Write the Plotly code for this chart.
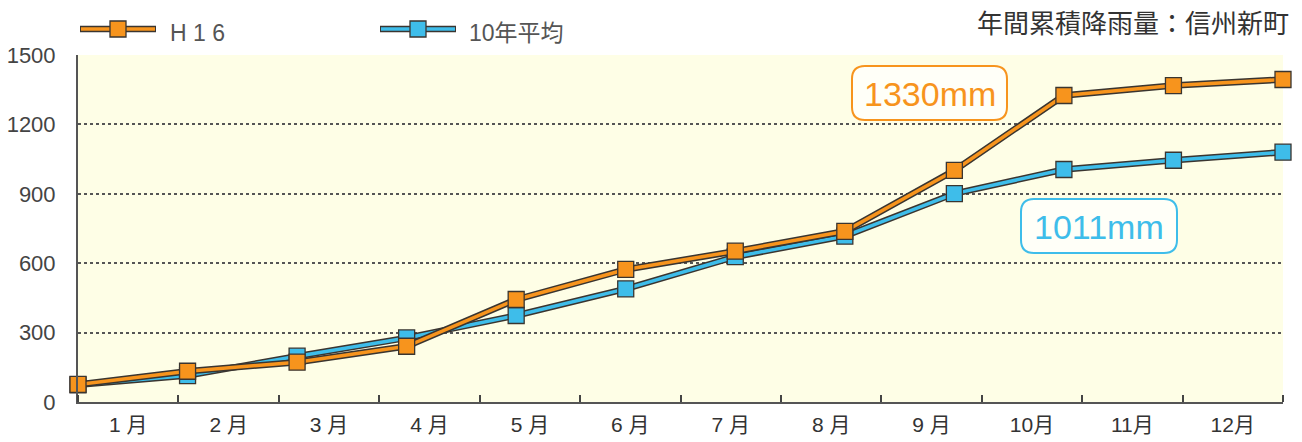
import plotly.graph_objects as go

# ---- data ----
months = ["1 月", "2 月", "3 月", "4 月", "5 月", "6 月", "7 月", "8 月", "9 月", "10月", "11月", "12月"]
point_index = list(range(12))
h16 = [76, 133, 172, 241, 443, 573, 652, 738, 1001, 1325, 1368, 1394]
avg10 = [74, 114, 198, 277, 374, 489, 628, 717, 901, 1005, 1045, 1080]
yticks = [0, 300, 600, 900, 1200, 1500]
series_names = ["H 1 6", "10年平均"]
title_text = "年間累積降雨量：信州新町"
total_labels = ["1330mm", "1011mm"]

ORANGE = "#F7941D"
BLUE = "#3EBDEA"
EDGE = "#3a3530"

W, H = 1302, 442
ML, MR, MT, MB = 78, 19, 55, 40
PW = W - ML - MR
PH = H - MT - MB


def fx(px):
    return (px - ML) / PW


def fy(py):
    return (H - MB - py) / PH


fig = go.Figure()

for ys, col in ((avg10, BLUE), (h16, ORANGE)):
    fig.add_trace(go.Scatter(x=point_index, y=ys, mode="lines",
                             line=dict(color=EDGE, width=6.5),
                             hoverinfo="skip", showlegend=False, cliponaxis=False))
    fig.add_trace(go.Scatter(x=point_index, y=ys, mode="lines+markers",
                             line=dict(color=col, width=3.5),
                             marker=dict(symbol="square", size=16, color=col,
                                         line=dict(color=EDGE, width=1.3)),
                             showlegend=False, cliponaxis=False))

n_months = len(months)
span = point_index[-1] - point_index[0]
month_w = span / n_months
month_centers = [(i + 0.5) * month_w for i in range(n_months)]
month_bounds = [i * month_w for i in range(n_months + 1)]

shapes = []
annotations = []


def rrect_path(x0, y0, x1, y1, r):
    pts = [("M", [(x0 + r, y0)]), ("L", [(x1 - r, y0)]), ("Q", [(x1, y0), (x1, y0 + r)]),
           ("L", [(x1, y1 - r)]), ("Q", [(x1, y1), (x1 - r, y1)]), ("L", [(x0 + r, y1)]),
           ("Q", [(x0, y1), (x0, y1 - r)]), ("L", [(x0, y0 + r)]), ("Q", [(x0, y0), (x0 + r, y0)])]
    s = ""
    for cmd, ps in pts:
        s += cmd + " " + " ".join(f"{fx(a):.5f},{fy(b):.5f}" for a, b in ps) + " "
    return s + "Z"


# value boxes
boxes = [((852, 66, 1007, 120), ORANGE, total_labels[0], (930, 94)),
         ((1021, 199, 1177, 253), BLUE, total_labels[1], (1099, 227))]
for (x0, y0, x1, y1), col, txt, (tx, ty) in boxes:
    shapes.append(dict(type="path", xref="paper", yref="paper", path=rrect_path(x0, y0, x1, y1, 13),
                       line=dict(color=col, width=2), fillcolor="#FFFFF8", layer="above"))
    annotations.append(dict(xref="paper", yref="paper", x=fx(tx), y=fy(ty), text=txt, showarrow=False,
                            xanchor="center", yanchor="middle",
                            font=dict(family="Liberation Sans, Arial", size=34, color=col)))

# custom legend
legend_items = [(80, 156, 118, ORANGE, series_names[0], 168), (380, 456, 418, BLUE, series_names[1], 467)]
for lx0, lx1, mx, col, name, tx in legend_items:
    ly = 29
    shapes.append(dict(type="line", xref="paper", yref="paper", x0=fx(lx0), x1=fx(lx1), y0=fy(ly), y1=fy(ly),
                       line=dict(color=EDGE, width=6.5)))
    shapes.append(dict(type="line", xref="paper", yref="paper", x0=fx(lx0 + 1), x1=fx(lx1 - 1), y0=fy(ly), y1=fy(ly),
                       line=dict(color=col, width=3.5)))
    shapes.append(dict(type="rect", xref="paper", yref="paper", x0=fx(mx - 8), x1=fx(mx + 8),
                       y0=fy(ly + 8), y1=fy(ly - 8), fillcolor=col, line=dict(color=EDGE, width=1.3)))
    annotations.append(dict(xref="paper", yref="paper", x=fx(tx), y=fy(33), text=name, showarrow=False,
                            xanchor="left", yanchor="middle",
                            font=dict(family="Liberation Sans, Noto Sans CJK JP", size=23, color="#555")))

annotations.append(dict(xref="paper", yref="paper", x=fx(1291), y=fy(21), text=title_text, showarrow=False,
                        xanchor="right", yanchor="middle",
                        font=dict(family="Noto Sans CJK JP", size=26, color="#333")))

fig.update_layout(
    width=W, height=H,
    margin=dict(l=ML, r=MR, t=MT, b=MB),
    paper_bgcolor="white",
    plot_bgcolor="#FEFEE6",
    showlegend=False,
    shapes=shapes,
    annotations=annotations,
    xaxis=dict(range=[point_index[0], point_index[-1]], tickmode="array", tickvals=month_centers,
               ticktext=months, ticks="", showgrid=False, zeroline=False, automargin=False,
               showline=True, linecolor="#555", linewidth=2,
               tickfont=dict(family="Liberation Sans, Noto Sans CJK JP", size=21, color="#333"),
               ticklabelstandoff=3,
               minor=dict(tickmode="array", tickvals=month_bounds, ticks="inside", ticklen=7,
                          tickcolor="#444", tickwidth=1.5, showgrid=False)),
    yaxis=dict(range=[0, 1500], tickmode="array", tickvals=yticks, ticks="", automargin=False,
               showgrid=True, gridcolor="#555", griddash="dot", gridwidth=1.5,
               zeroline=False, showline=True, linecolor="#555", linewidth=2,
               tickfont=dict(family="Liberation Sans, Arial", size=22, color="#444"),
               ticklabelstandoff=16),
)

fig.write_html("out.html", config={"displayModeBar": False},
               post_script="document.body.style.margin='0';document.body.style.overflow='hidden';")
